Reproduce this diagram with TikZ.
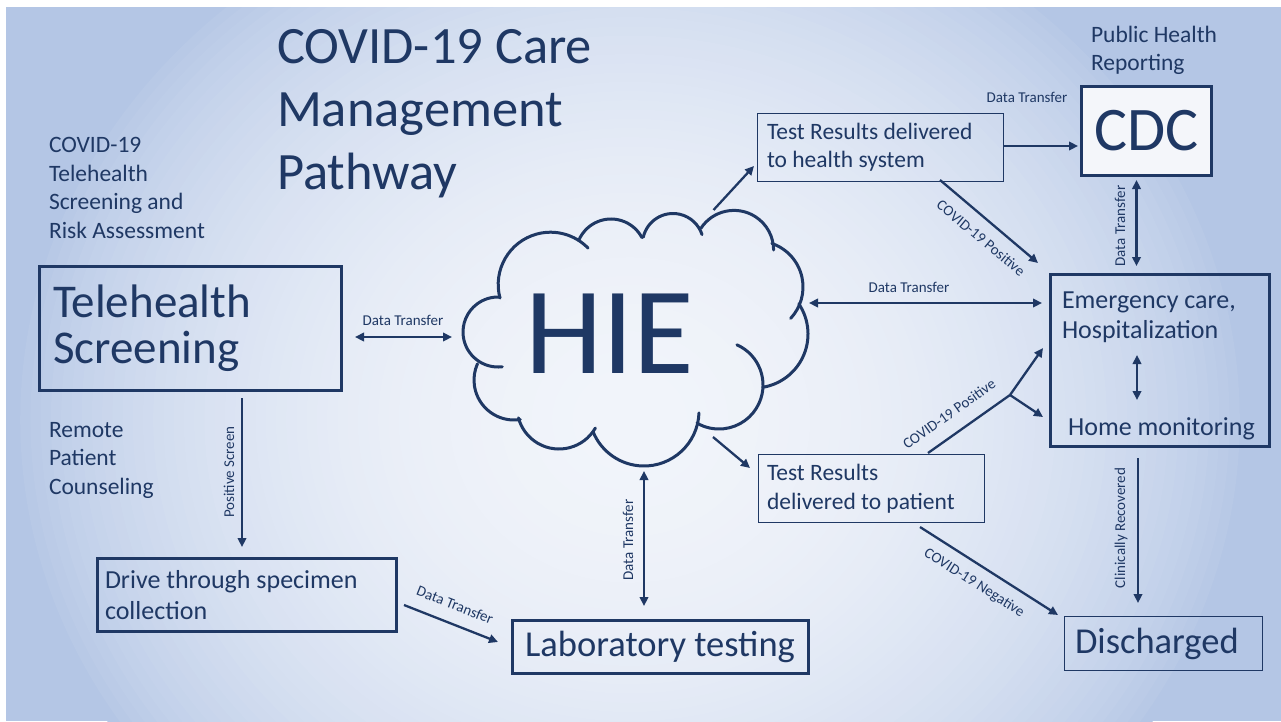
\documentclass[tikz,border=0pt]{standalone}
\usepackage{fontspec}
\setmainfont{Carlito}
\usetikzlibrary{arrows.meta}
\definecolor{navy}{RGB}{31,56,100}
\definecolor{cdcfill}{RGB}{244,246,250}
\definecolor{bgblue}{RGB}{180,198,229}
\definecolor{bgwhite}{RGB}{241,244,250}
\newcommand{\fs}[2]{\fontsize{#1}{#2}\selectfont}
\begin{document}
\begin{tikzpicture}[x=1pt,y=-1pt,
  every node/.style={text=navy, inner sep=0pt, outer sep=0pt},
  thickbox/.style={draw=navy, line width=3pt, rectangle, inner ysep=0pt, align=flush left},
  thinbox/.style={draw=navy, line width=1.3pt, rectangle, inner ysep=0pt, align=flush left},
  conn/.style={draw=navy, line width=2.3pt, -{Triangle[length=9pt,width=8.5pt]}},
  dconn/.style={draw=navy, line width=2.3pt, {Triangle[length=9pt,width=8.5pt]}-{Triangle[length=9pt,width=8.5pt]}},
  plain/.style={draw=navy, line width=2.3pt},
  puff/.style={draw=navy, line width=3pt, line cap=round},
  lbl/.style={font=\fs{15}{17}},
  side/.style={anchor=north west, align=flush left, font=\fs{23.5}{28.5}}
]
\useasboundingbox (0,0) rectangle (1281,721);
\fill[white] (0,0) rectangle (1281,721);
\begin{scope}
\clip (6,7) rectangle (1281,721);
\fill[bgblue] (6,7) rectangle (1281,721);
\foreach \k in {0,...,60} {
  \pgfmathsetmacro\r{1.0-\k*0.0165}
  \pgfmathsetmacro\p{min(100,100*(1-\r*\r+0.0001)^0.8)}
  \fill[bgwhite!\p!bgblue] (630,420) ellipse [x radius=\r*620pt, y radius=\r*560pt];
}
\end{scope}

% free texts
\node[anchor=north west, align=flush left, font=\fs{52.5}{63}] (title) at (277,29) {COVID-19 Care\\Management\\Pathway};
\node[side] (sideA) at (49,137.5) {COVID-19\\Telehealth\\Screening and\\Risk Assessment};
\node[side] (sideB) at (49,422) {Remote\\Patient\\Counseling};
\node[side] (pub) at (1091,26) {Public Health\\Reporting};

% boxes
\node[thickbox, minimum width=302pt, minimum height=124pt, inner xsep=13.5pt, text width=275pt, font=\fs{47}{46}] (tele) at (190.5,328.5) {Telehealth\\Screening};
\node[thinbox, minimum width=245.7pt, minimum height=67.7pt, inner xsep=9.3pt, text width=227pt, font=\fs{23.5}{28}] (hs) at (880.5,147.5) {Test Results delivered\\to health system};
\node[thickbox, fill=cdcfill, minimum width=130pt, minimum height=89pt, align=center, font=\fs{62}{62}] (cdc) at (1146.5,131) {CDC};
\node[thickbox, minimum width=219pt, minimum height=172pt] (em) at (1160,360.5) {};
\node[anchor=north west, align=flush left, font=\fs{26}{30}] (emtxt) at (1062,292) {Emergency care,\\Hospitalization};
\node[anchor=base, font=\fs{26}{30}] (home) at (1161.5,435) {Home monitoring};
\node[thinbox, minimum width=225.7pt, minimum height=67.7pt, inner xsep=8.3pt, text width=209pt, font=\fs{23.5}{29}] (patient) at (871.5,488.5) {Test Results\\delivered to patient};
\node[thickbox, minimum width=299pt, minimum height=73pt, inner xsep=7.5pt, text width=284pt, font=\fs{26}{31}] (drive) at (247,595) {Drive through specimen\\collection};
\node[thickbox, minimum width=296pt, minimum height=53pt, align=center, font=\fs{36.5}{38}] (lab) at (660,647) {Laboratory testing};
\node[thinbox, minimum width=197.7pt, minimum height=53.7pt, inner xsep=10.3pt, text width=177pt, font=\fs{36.5}{38}] (disch) at (1163.5,643.5) {Discharged};

% cloud (drawn as circular puffs)
\coordinate (cloud) at (636.5,338.5);
\draw[puff] (550.5,284.5) ++(165:52.3) arc[start angle=165, end angle=316, radius=52.3];
\draw[puff] (611,254) ++(203:35) arc[start angle=203, end angle=332, radius=35];
\draw[puff] (673,244) ++(193:30.5) arc[start angle=193, end angle=342, radius=30.5];
\draw[puff] (734,250) ++(213:39.6) arc[start angle=213, end angle=360, radius=39.6];
\draw[puff] (757,287) ++(288.8:46) arc[start angle=288.8, end angle=403, radius=46];
\draw[puff] (754,334) ++(326:54) arc[start angle=326, end angle=440.4, radius=54];
\draw[puff] (719,385) ++(294:44) arc[start angle=294, end angle=480, radius=44];
\draw[puff] (644,411) ++(2:55) arc[start angle=2, end angle=157.6, radius=55];
\draw[puff] (559,407) ++(30:42) arc[start angle=30, end angle=165, radius=42];
\draw[puff] (514,380) ++(81:40) arc[start angle=81, end angle=204, radius=40];
\draw[puff] (498,332) ++(83:35) arc[start angle=83, end angle=273.4, radius=35];
\node[font=\fs{124}{124}] (hie) at (610,334) {HIE};

% connector labels
\node[lbl] (l1) at (403,320) {Data Transfer};
\node[lbl, rotate=90] (l2) at (229,472) {Positive Screen};
\node[lbl, rotate=-21.5] (l3) at (455,605) {Data Transfer};
\node[lbl, rotate=90] (l4) at (628,540) {Data Transfer};
\node[lbl] (l5) at (1027,97) {Data Transfer};
\node[lbl, rotate=90] (l6) at (1120,226) {Data Transfer};
\node[lbl, rotate=-39.8] (l7) at (981,238) {COVID-19 Positive};
\node[lbl] (l8) at (909,287) {Data Transfer};
\node[lbl, rotate=35.3] (l9) at (949,414) {COVID-19 Positive};
\node[lbl, rotate=-32.5] (l10) at (974,583) {COVID-19 Negative};
\node[lbl, rotate=90] (l11) at (1121,528) {Clinically Recovered};

% connectors
\draw[dconn] ([shift={(164.5,8.5)}]tele.center) -- ([shift={(-184.5,-1.5)}]cloud);
\draw[conn] ([shift={(51.5,69.5)}]tele.center) -- ([shift={(-5,-48)}]drive.center);
\draw[conn] ([shift={(157,10)}]drive.center) -- ([shift={(-162,-5)}]lab.center);
\draw[dconn] ([shift={(7.5,132.5)}]cloud) -- ([shift={(-16,-41)}]lab.center);
\draw[conn] ([shift={(77,-128.5)}]cloud) -- ([shift={(-126.5,18.5)}]hs.center);
\draw[conn] ([shift={(123.5,-1.5)}]hs.center) -- ([shift={(-68.5,15)}]cdc.center);
\draw[dconn] ([shift={(-10,49)}]cdc.center) -- ([shift={(-23.5,-94.5)}]em.center);
\draw[conn] ([shift={(59.5,32.5)}]hs.center) -- ([shift={(-122,-97.5)}]em.center);
\draw[dconn] ([shift={(172.5,-35.5)}]cloud) -- ([shift={(-118,-57.5)}]em.center);
\draw[dconn] ([shift={(-23,-5.5)}]em.center) -- ([shift={(-23,39.5)}]em.center);
\draw[conn] ([shift={(76.5,98.5)}]cloud) -- ([shift={(-121.5,-20.5)}]patient.center);
\coordinate (fork) at (1010,395);
\draw[plain] ([shift={(56.5,-35.5)}]patient.center) -- (fork);
\draw[conn] (fork) -- ([shift={(-117,-12.5)}]em.center);
\draw[conn] (fork) -- ([shift={(-117,56.5)}]em.center);
\draw[conn] ([shift={(48.5,38.5)}]patient.center) -- ([shift={(-105.5,-28.5)}]disch.center);
\draw[conn] ([shift={(-22,97.5)}]em.center) -- ([shift={(-25.5,-40.5)}]disch.center);
\end{tikzpicture}
\end{document}
